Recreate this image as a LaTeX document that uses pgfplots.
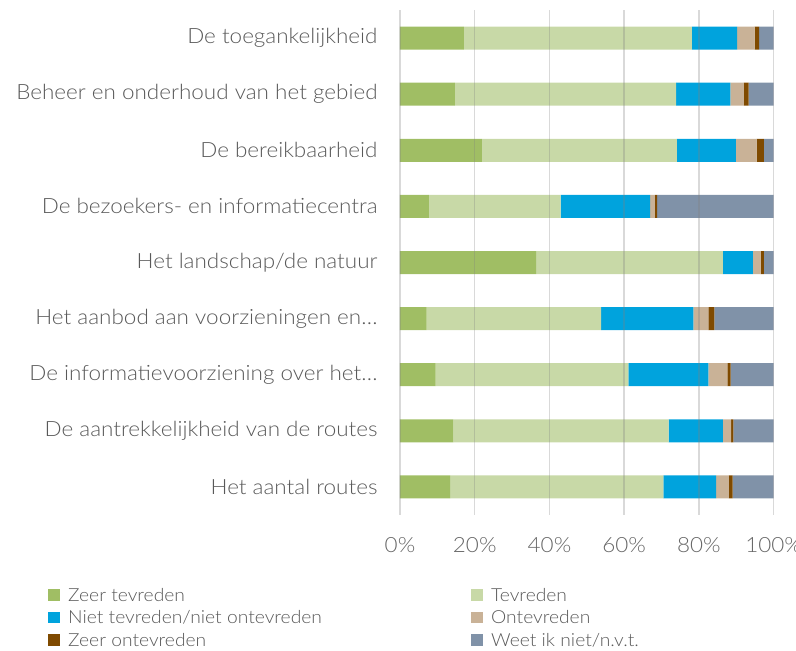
\documentclass[border=0pt]{standalone}
\usepackage{fontspec}
\setmainfont{Lato}[UprightFont=* Light, FakeStretch=1.07]
\usepackage{pgfplots}
\pgfplotsset{compat=1.18}
\definecolor{c1}{HTML}{A0BE64}
\definecolor{c2}{HTML}{C8D9A7}
\definecolor{c3}{HTML}{00A3DD}
\definecolor{c4}{HTML}{C9B297}
\definecolor{c5}{HTML}{7F4A00}
\definecolor{c6}{HTML}{8092A8}
\definecolor{txt}{HTML}{595959}
\begin{document}
\begin{tikzpicture}[x=1pt,y=1pt]
\useasboundingbox (0,0) rectangle (796,651);
\begin{axis}[
  at={(400pt,136pt)}, anchor=south west,
  scale only axis, width=373.7pt, height=505pt,
  xbar stacked, bar width=0.41,
  xmin=0, xmax=100, ymin=-0.5, ymax=8.5, y dir=reverse,
  xtick={0,20,40,60,80,100},
  xticklabels={0\%,20\%,40\%,60\%,80\%,100\%},
  ytick={0,1,2,3,4,5,6,7,8},
  yticklabels={De toegankelijkheid,Beheer en onderhoud van het gebied,De bereikbaarheid,De bezoekers- en informatiecentra,Het landschap/de natuur,Het aanbod aan voorzieningen en…,De informatievoorziening over het…,De aantrekkelijkheid van de routes,Het aantal routes},
  axis line style={draw=none}, tick style={draw=none},
  xmajorgrids, major grid style={draw=black!50, line width=1.5pt, opacity=0.3},
  axis on top,
  ticklabel style={font=\fontsize{21}{24}\selectfont, text=txt},
  xticklabel style={yshift=-19pt, text=black!60},
  yticklabel style={xshift=-19pt},
  legend style={at={(axis description cs:-0.942,-0.14)}, anchor=north west, draw=none, fill=none,
    font=\fontsize{18}{21}\selectfont, text=txt, inner sep=0pt, row sep=4pt},
  legend columns=2, legend cell align=left,
  legend image code/.code={\fill[#1,draw=none] (0pt,-5.5pt) rectangle (12pt,6pt); \path (18pt,0pt);},
  every axis plot/.append style={draw=none},
]
\addplot[fill=c1] coordinates {(17.1,0) (14.7,1) (21.9,2) (7.7,3) (36.4,4) (7.1,5) (9.5,6) (14.3,7) (13.4,8)};
\addplot[fill=c2] coordinates {(61.0,0) (59.2,1) (52.2,2) (35.3,3) (50.0,4) (46.7,5) (51.6,6) (57.6,7) (57.1,8)};
\addplot[fill=c3] coordinates {(12.1,0) (14.5,1) (15.8,2) (23.9,3) (8.0,4) (24.7,5) (21.4,6) (14.5,7) (14.1,8)};
\addplot[fill=c4] coordinates {(4.7,0) (3.6,1) (5.5,2) (1.3,3) (2.1,4) (4.0,5) (5.1,6) (2.2,7) (3.4,8)};
\addplot[fill=c5] coordinates {(1.2,0) (1.3,1) (2.0,2) (0.6,3) (0.9,4) (1.6,5) (0.9,6) (0.6,7) (1.0,8)};
\addplot[fill=c6] coordinates {(3.9,0) (6.7,1) (2.6,2) (31.2,3) (2.6,4) (15.9,5) (11.5,6) (10.8,7) (11.0,8)};
\legend{\makebox[401pt][l]{Zeer tevreden},Tevreden,\makebox[401pt][l]{Niet tevreden/niet ontevreden},Ontevreden,\makebox[401pt][l]{Zeer ontevreden},Weet ik niet/n.v.t.}
\end{axis}
\end{tikzpicture}
\end{document}
